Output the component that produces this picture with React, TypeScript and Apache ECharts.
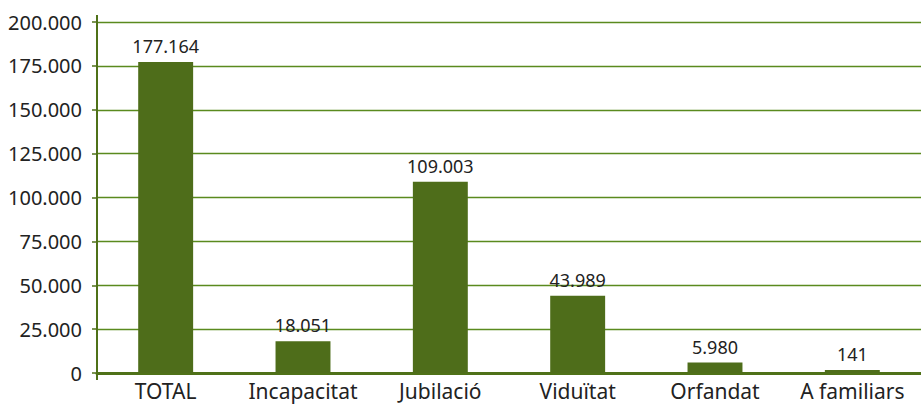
import React, { useEffect, useRef } from "react";
import * as echarts from "echarts";

const categories = ["TOTAL", "Incapacitat", "Jubilació", "Viduïtat", "Orfandat", "A familiars"];
const values = [177164, 18051, 109003, 43989, 5980, 141];
const yMin = 0;
const yMax = 200000;
const yInterval = 25000;

const fmt = (v: number) => String(Math.round(v)).replace(/\B(?=(\d{3})+(?!\d))/g, ".");

const GRID_LEFT = 97;
const GRID_TOP = 22;
const GRID_BOTTOM = 32;
const GRID_WIDTH = 832;

export default function App() {
  const ref = useRef<HTMLDivElement>(null);
  useEffect(() => {
    document.body.style.margin = "0";
    const chart = echarts.init(ref.current!, undefined, { renderer: "svg" });
    const font = "'Noto Sans', sans-serif";
    chart.setOption({
      animation: false,
      grid: { left: GRID_LEFT, width: GRID_WIDTH, top: GRID_TOP, bottom: GRID_BOTTOM, containLabel: false },
      xAxis: {
        type: "category",
        data: categories,
        axisLine: { show: true, lineStyle: { color: "#4f7118", width: 3 } },
        axisTick: { show: false },
        axisLabel: { color: "#222", fontSize: 21, fontFamily: font, margin: 7, interval: 0, hideOverlap: false },
      },
      yAxis: {
        type: "value",
        min: yMin,
        max: yMax,
        interval: yInterval,
        axisLine: { show: false },
        axisTick: { show: true, length: 5, lineStyle: { color: "#4f7118", width: 1.5 } },
        splitLine: { show: true, lineStyle: { color: "#5a8a1e", width: 1.3 } },
        axisLabel: { color: "#222", fontSize: 20, fontFamily: font, margin: 15, formatter: (v: number) => fmt(v) },
      },
      graphic: [
        {
          type: "line",
          shape: { x1: GRID_LEFT, y1: GRID_TOP - 7, x2: GRID_LEFT, y2: 405 - GRID_BOTTOM + 7 },
          style: { stroke: "#4f7118", lineWidth: 2 },
          z: 10,
        },
      ],
      series: [
        {
          type: "bar",
          data: values,
          barWidth: "40%",
          barMinHeight: 3,
          itemStyle: { color: "#4e6d1a" },
          label: {
            show: true,
            position: "top",
            distance: 7,
            color: "#222",
            fontSize: 18,
            fontFamily: font,
            formatter: (p: any) => fmt(p.value),
          },
        },
      ],
    });
    return () => chart.dispose();
  }, []);
  return <div ref={ref} style={{ width: 921, height: 405 }} />;
}
